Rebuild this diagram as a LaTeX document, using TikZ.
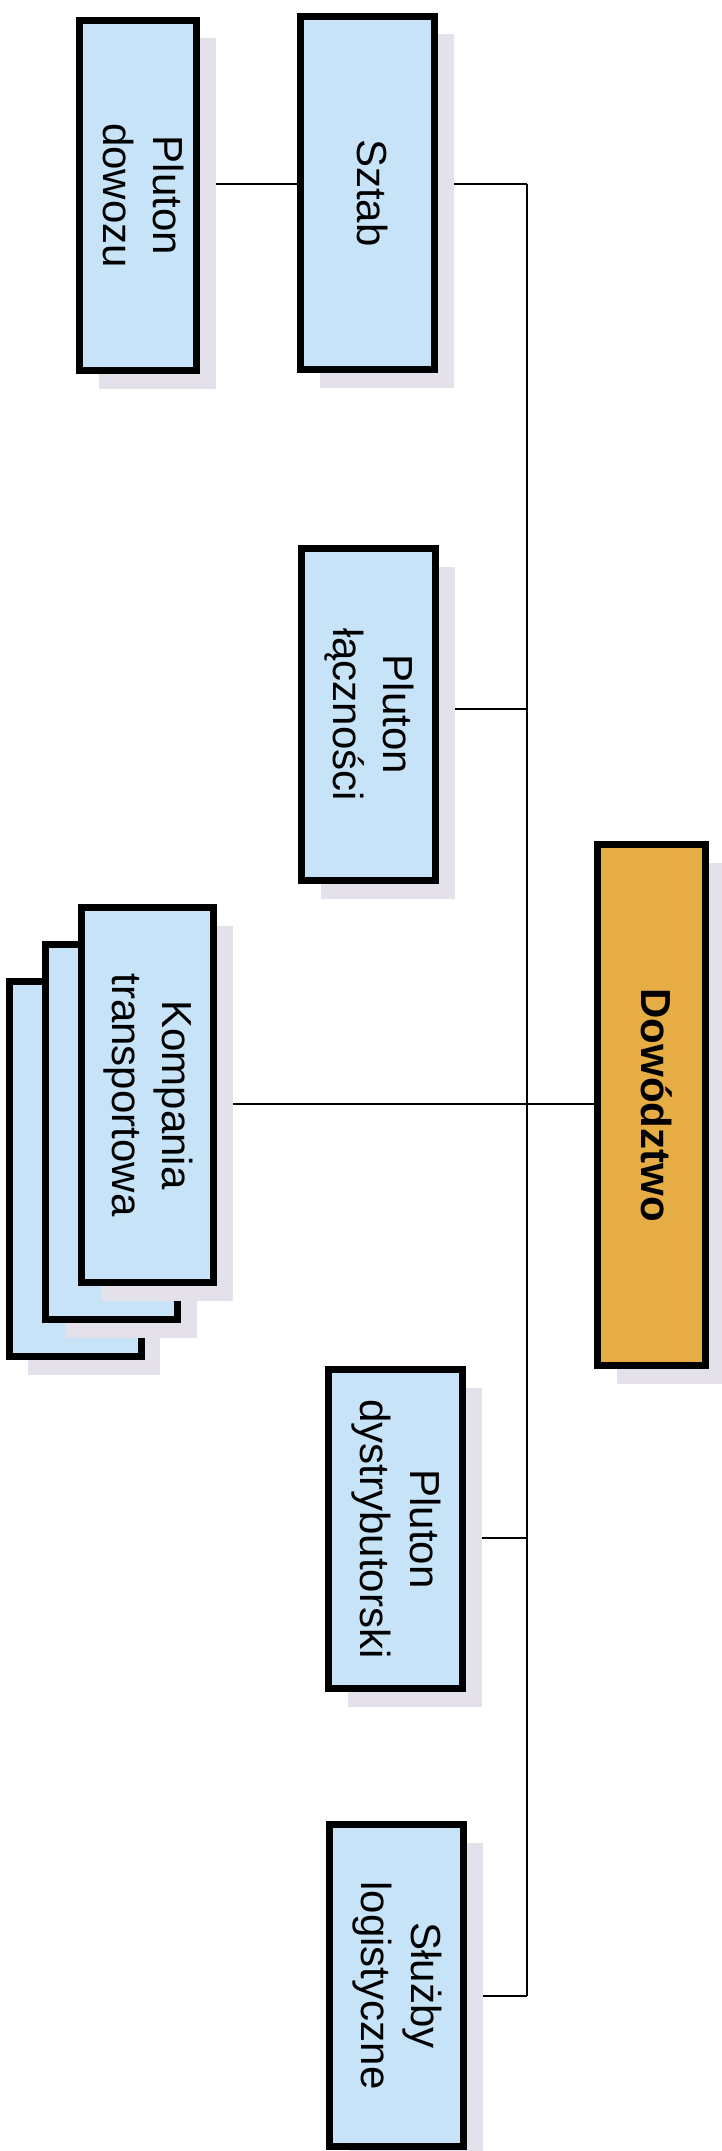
\documentclass[tikz,border=0pt]{standalone}
\usepackage{fontspec}
\setmainfont{Liberation Sans}
\usetikzlibrary{shadows, backgrounds}
\definecolor{unitblue}{HTML}{C6E3F7}
\definecolor{hqgold}{HTML}{E6AD45}
\definecolor{shadowgray}{HTML}{E4E1EA}

\newcommand{\vlabel}[1]{\rotatebox{-90}{\begin{tabular}{@{}c@{}}#1\end{tabular}}}

\tikzset{
  unit/.style={draw, line width=7pt, fill=unitblue, inner sep=0pt, outer sep=0pt,
    font=\fontsize{42}{50}\selectfont,
    drop shadow={shadow xshift=19pt, shadow yshift=-18pt, fill=shadowgray, opacity=1}},
  hq/.style={unit, fill=hqgold, font=\fontsize{42}{50}\selectfont\bfseries},
  link/.style={line width=2pt}
}

\begin{document}
\begin{tikzpicture}[x=1pt,y=1pt]
\useasboundingbox (0,0) rectangle (721,-2151);

% upper row
\node[unit, minimum width=117pt, minimum height=350pt] (dowozu) at (138,-195.5) {\vlabel{Pluton\\dowozu}};
\node[unit, minimum width=134pt, minimum height=353pt] (sztab) at (367.5,-193) {\vlabel{Sztab}};
\node[unit, minimum width=134pt, minimum height=332pt] (laczn) at (368.5,-714.5) {\vlabel{Pluton\\łączności}};

% company stack, back to front
\node[unit, minimum width=132pt, minimum height=375pt] (komp3) at (75,-1169) {};
\node[unit, minimum width=132pt, minimum height=375pt] (komp2) at (111.5,-1132) {};
\node[unit, minimum width=132pt, minimum height=375pt] (komp1) at (147.5,-1095) {\vlabel{Kompania\\transportowa}};

\node[hq, minimum width=108pt, minimum height=521pt] (hq) at (651.5,-1105) {\vlabel{Dowództwo}};

% lower row
\node[unit, minimum width=134pt, minimum height=319pt] (dystr) at (395.5,-1529) {\vlabel{Pluton\\dystrybutorski}};
\node[unit, minimum width=134pt, minimum height=322pt] (sluzby) at (396.5,-1985.5) {\vlabel{Służby\\logistyczne}};

% trunk junctions
\coordinate (jSztab) at (527,-184);
\coordinate (jLaczn) at (527,-709);
\coordinate (jKomp) at (527,-1104);
\coordinate (jDystr) at (527,-1538);
\coordinate (jSluzby) at (527,-1996);

\begin{scope}[on background layer]
  \draw[link] (jSztab) -- (jSluzby);
  \draw[link] (dowozu.east |- jSztab) -- (sztab.west |- jSztab);
  \draw[link] (sztab.east |- jSztab) -- (jSztab);
  \draw[link] (laczn.east |- jLaczn) -- (jLaczn);
  \draw[link] (komp1.east |- jKomp) -- (hq.west |- jKomp);
  \draw[link] (dystr.east |- jDystr) -- (jDystr);
  \draw[link] (sluzby.east |- jSluzby) -- (jSluzby);
\end{scope}
\end{tikzpicture}
\end{document}
